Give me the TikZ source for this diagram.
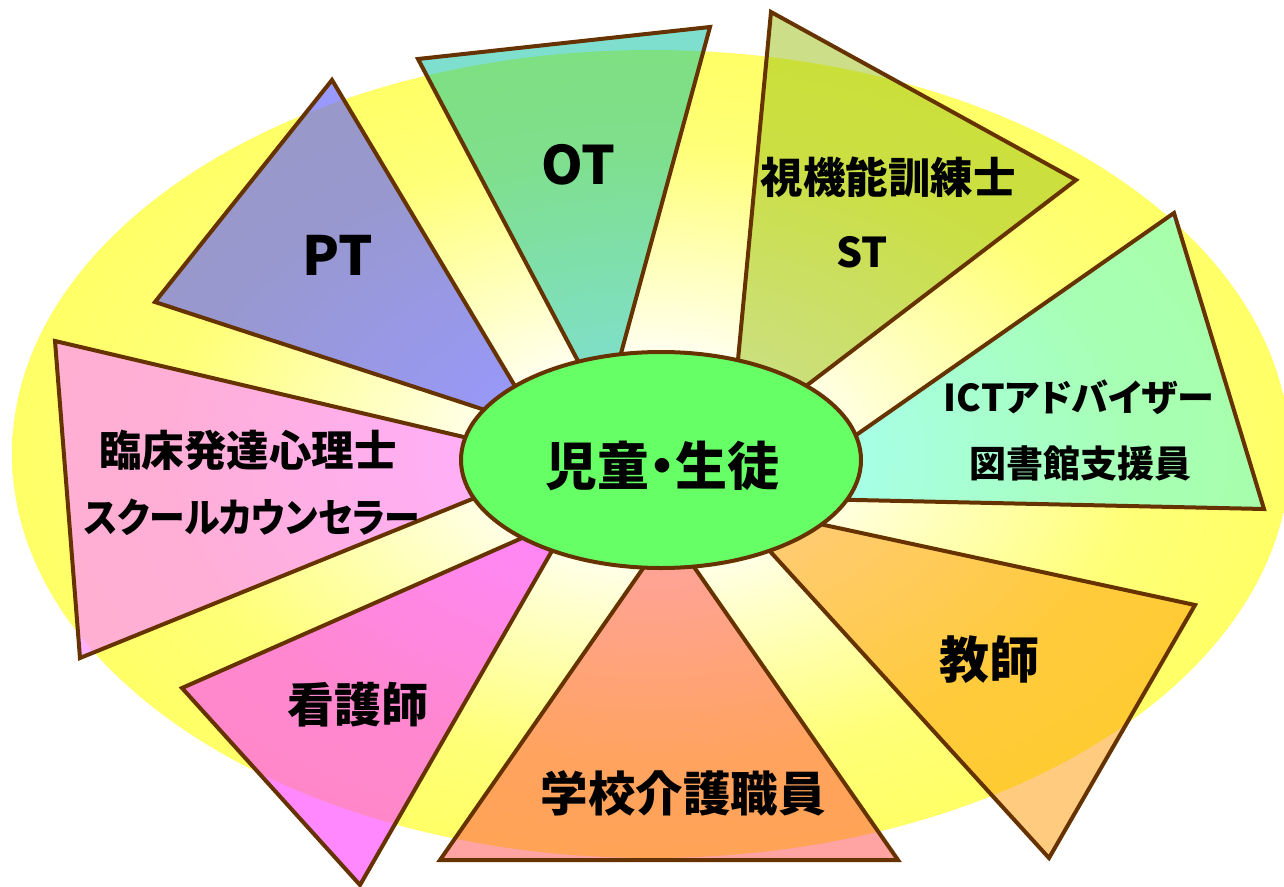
\documentclass[tikz,border=0pt]{standalone}
\usepackage{fontspec}
\usetikzlibrary{shapes.geometric}
\newfontfamily\jp{Noto Sans CJK JP}[RawFeature=+palt]
\definecolor{brn}{HTML}{663300}
\definecolor{ya}{HTML}{FFFFF2}
\definecolor{yb}{HTML}{FFFFB0}
\definecolor{yc}{HTML}{FFFF78}
\definecolor{yd}{HTML}{FFFF66}
\definecolor{cPT}{HTML}{6262FF}
\definecolor{cOT}{HTML}{00C0A0}
\definecolor{cST}{HTML}{99C011}
\definecolor{cICT}{HTML}{50FFF0}
\definecolor{cKY}{HTML}{FF9900}
\definecolor{cGK}{HTML}{FF4848}
\definecolor{cKG}{HTML}{FF48FF}
\definecolor{cRS}{HTML}{FF8EFF}
\definecolor{cCenter}{HTML}{66FF66}
\pgfdeclareradialshading{bgshade}{\pgfpoint{0bp}{0bp}}{color(0bp)=(white); color(6bp)=(ya); color(13bp)=(yb); color(19bp)=(yc); color(25bp)=(yd); color(50bp)=(yd)}
\tikzset{
  tri/.style={draw=brn, line width=4pt, line join=miter, fill opacity=0.5},
  lbl/.style={font=\jp\bfseries, text=black, inner sep=0pt, anchor=center},
}
\begin{document}
\begin{tikzpicture}[x=1pt,y=-1pt]
\useasboundingbox (0,0) rectangle (1284,886);
% background ellipse
\shade[shading=bgshade] (651,454) ellipse [x radius=639, y radius=404];
% triangles
\draw[tri, fill=cPT, fill opacity=0.65] (332,80) -- (155,302) -- (540,428) -- cycle;
\draw[tri, fill=cOT] (418,59) -- (710,27) -- (605,412) -- cycle;
\draw[tri, fill=cST] (771,12) -- (1076,180) -- (730,444) -- cycle;
\draw[tri, fill=cICT] (1174,213) -- (1264,509) -- (766,498) -- cycle;
\draw[tri, fill=cKY] (1195,605) -- (1049,858) -- (727,504) -- cycle;
\draw[tri, fill=cGK] (440,860) -- (898,860) -- (669,531) -- cycle;
\draw[tri, fill=cKG, fill opacity=0.65] (182,688) -- (360,885) -- (572,516) -- cycle;
\draw[tri, fill=cRS, fill opacity=0.7] (55,341) -- (566,461) -- (80,658) -- cycle;
% center
\node[draw=brn, line width=4pt, fill=cCenter, ellipse, minimum width=400pt, minimum height=216pt, inner sep=0pt] (center) at (661,460) {};
\node[lbl, font=\jp\bfseries\fontsize{52}{60}\selectfont] (student) at (662,466) {児童・生徒};
% labels
\node[lbl, font=\jp\bfseries\fontsize{54}{60}\selectfont] (pt) at (338,255) {PT};
\node[lbl, font=\jp\bfseries\fontsize{53}{60}\selectfont] (ot) at (578,165) {OT};
\node[lbl, font=\jp\bfseries\fontsize{42.5}{48}\selectfont] (sikino) at (888,177) {視機能訓練士};
\node[lbl, font=\jp\bfseries\fontsize{41}{48}\selectfont] (st) at (862,252) {ST};
\node[lbl, font=\jp\bfseries\fontsize{37}{44}\selectfont] (ict) at (1079,397) {ICTアドバイザー};
\node[lbl, font=\jp\bfseries\fontsize{37}{44}\selectfont] (tosho) at (1080,463) {図書館支援員};
\node[lbl, font=\jp\bfseries\fontsize{42.5}{48}\selectfont] (rinsho) at (248,450) {臨床発達心理士};
\node[lbl, font=\jp\bfseries\fontsize{40}{48}\selectfont] (sc) at (252,517) {\scalebox{0.895}[1]{スクールカウンセラー}};
\node[lbl, font=\jp\bfseries\fontsize{47}{54}\selectfont] (kango) at (358,705) {看護師};
\node[lbl, font=\jp\bfseries\fontsize{47.5}{54}\selectfont] (kaigo) at (683,793) {学校介護職員};
\node[lbl, font=\jp\bfseries\fontsize{50}{58}\selectfont] (kyoshi) at (989,660) {教師};
\end{tikzpicture}
\end{document}
